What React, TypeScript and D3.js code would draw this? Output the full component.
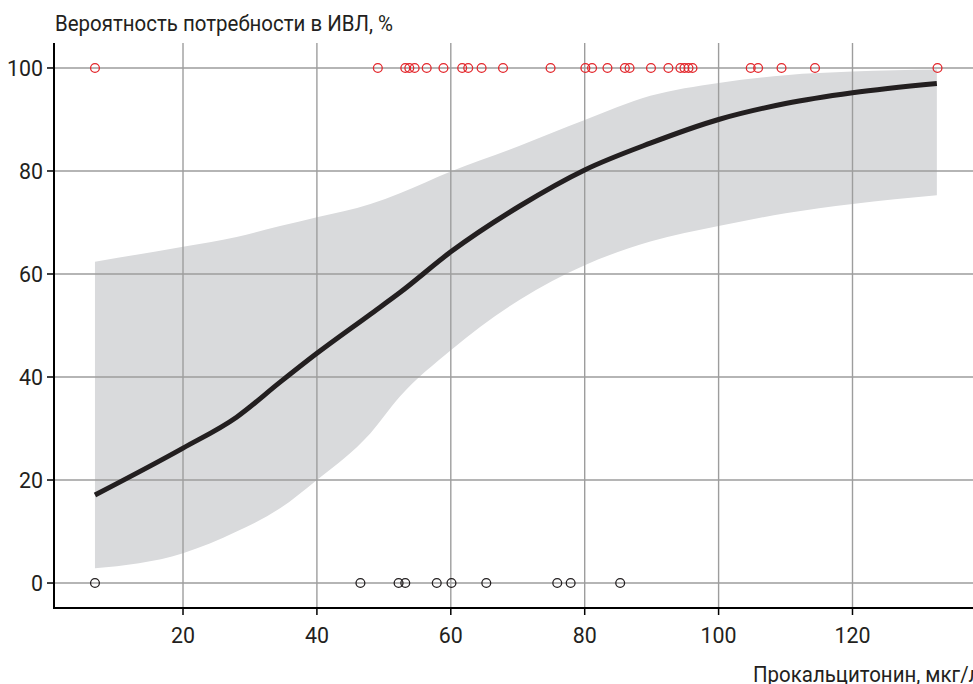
import React from "react";
import * as d3 from "d3";

// Observed outcomes: PCT values of patients who needed ventilation (100%) and did not (0%)
const ventYes = [6.85, 49.1, 53.2, 53.8, 54.6, 56.4, 58.9, 61.7, 62.6, 64.6, 67.8, 74.9, 80.1, 81.1, 83.4, 86.0, 86.7, 89.9, 92.5, 94.3, 94.9, 95.5, 96.1, 104.8, 105.9, 109.4, 114.4, 132.7];
const ventNo = [6.85, 46.5, 52.2, 53.2, 57.9, 60.1, 65.3, 75.9, 77.9, 85.3];

// Fitted probability curve and confidence band
const curveX = [6.85, 20, 28, 34.5, 40, 48, 52.4, 60, 70.3, 80, 89.8, 100, 110, 120, 132.6];
const curveY = [17.1, 26.2, 32.2, 39.0, 44.6, 52.2, 56.4, 64.3, 73.2, 80.2, 85.4, 90.0, 93.1, 95.2, 97.0];
const bandUpper = [62.4, 65.3, 67.2, 69.3, 71.0, 73.6, 75.7, 79.9, 84.9, 89.9, 94.6, 97.1, 98.6, 99.3, 99.7];
const bandLower = [2.85, 5.8, 10.0, 14.5, 20.0, 29.1, 36.2, 45.2, 55.0, 61.7, 66.3, 69.3, 71.8, 73.6, 75.3];

const xTicks = [20, 40, 60, 80, 100, 120];
const yTicks = [0, 20, 40, 60, 80, 100];

const yTitle = "Вероятность потребности в ИВЛ, %";
const xTitle = "Прокальцитонин, мкг/л";

const W = 973;
const H = 684;
const left = 54;
const top = 43;
const bottom = 608;
const right = 973;

const FONT = "Roboto, 'DejaVu Sans Condensed', sans-serif";
const SX = 0.93;
const TEXT = "#231f20";
const GRID = "#9d9d9d";

function T(props: { x: number; y: number; anchor?: string; size: number; dy?: string; children: React.ReactNode }) {
  return (
    <text
      transform={`translate(${props.x},${props.y}) scale(${SX},1)`}
      dy={props.dy}
      textAnchor={props.anchor || "start"}
      fontFamily={FONT}
      fontSize={props.size}
      fill={TEXT}
    >
      {props.children}
    </text>
  );
}

export default function App() {
  const x = d3.scaleLinear().domain([0.73, 138.0]).range([left, right]);
  const y = d3.scaleLinear().domain([-4.85, 104.85]).range([bottom, top]);

  const pts = curveX.map((cx, i) => ({ x: cx, y: curveY[i], lo: bandLower[i], hi: bandUpper[i] }));
  const area = d3
    .area<{ x: number; lo: number; hi: number }>()
    .x((d) => x(d.x))
    .y0((d) => y(d.lo))
    .y1((d) => y(d.hi))
    .curve(d3.curveMonotoneX);
  const line = d3
    .line<{ x: number; y: number }>()
    .x((d) => x(d.x))
    .y((d) => y(d.y))
    .curve(d3.curveMonotoneX);

  return (
    <svg
      width={W}
      height={H}
      style={{ position: "absolute", left: 0, top: 0, background: "#fff" }}
    >
      <path d={area(pts) || ""} fill="#d9dadc" stroke="none" />
      {/* grid */}
      {yTicks.map((t) => (
        <line key={"gy" + t} x1={left} x2={right} y1={y(t)} y2={y(t)} stroke={GRID} strokeWidth={1.4} />
      ))}
      {xTicks.map((t) => (
        <line key={"gx" + t} x1={x(t)} x2={x(t)} y1={top} y2={bottom} stroke={GRID} strokeWidth={1.4} />
      ))}
      <path d={line(pts) || ""} fill="none" stroke={TEXT} strokeWidth={5} />
      {/* axes */}
      <line x1={left} x2={left} y1={top} y2={bottom + 1} stroke="#000" strokeWidth={2} />
      <line x1={left - 1} x2={right} y1={bottom} y2={bottom} stroke="#000" strokeWidth={2} />
      {yTicks.map((t) => (
        <g key={"ty" + t}>
          <line x1={left - 7} x2={left} y1={y(t)} y2={y(t)} stroke="#000" strokeWidth={1.5} />
          <T x={left - 11} y={y(t)} dy="0.36em" anchor="end" size={23}>
            {t}
          </T>
        </g>
      ))}
      {xTicks.map((t) => (
        <g key={"tx" + t}>
          <line x1={x(t)} x2={x(t)} y1={bottom} y2={bottom + 7} stroke="#000" strokeWidth={1.5} />
          <T x={x(t)} y={643} anchor="middle" size={23}>
            {t}
          </T>
        </g>
      ))}
      {/* observations */}
      {ventYes.map((v, i) => (
        <circle key={"r" + i} cx={x(v)} cy={y(100)} r={4.4} fill="none" stroke="#e3262b" strokeWidth={1.3} />
      ))}
      {ventNo.map((v, i) => (
        <circle key={"b" + i} cx={x(v)} cy={y(0)} r={4.4} fill="none" stroke="#231f20" strokeWidth={1.3} />
      ))}
      <T x={55} y={31} size={22}>
        {yTitle}
      </T>
      <T x={753} y={682} size={22}>
        {xTitle}
      </T>
    </svg>
  );
}
